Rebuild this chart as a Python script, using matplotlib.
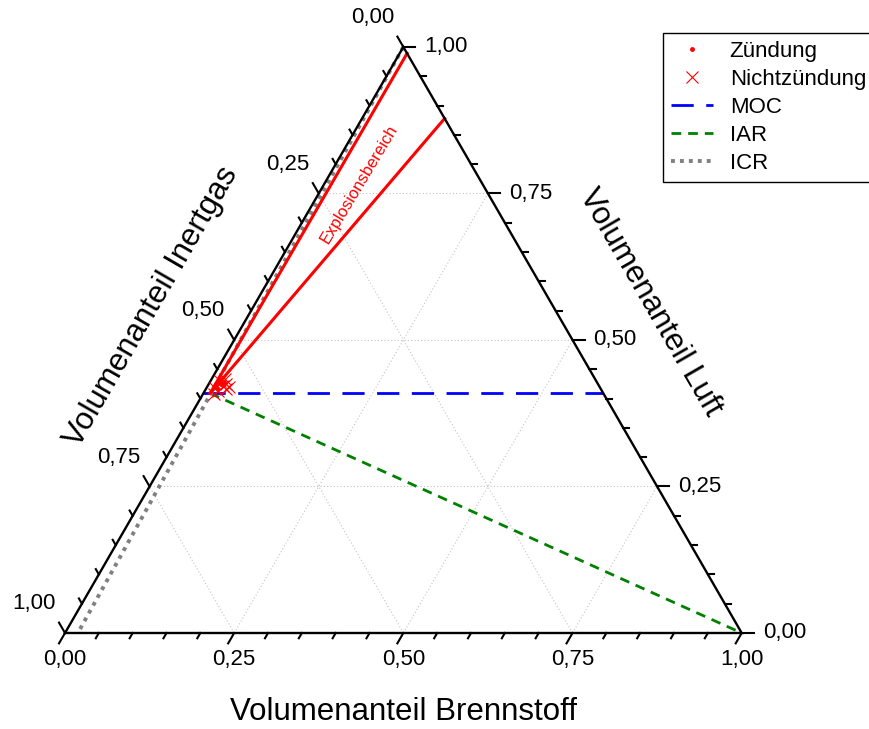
import numpy as np
import matplotlib.pyplot as plt
from matplotlib.transforms import Affine2D, offset_copy

plt.rcParams['font.family'] = ['Liberation Sans', 'DejaVu Sans']

# Anteile: (Brennstoff, Luft), Inertgas = 1 - Brennstoff - Luft
ueg_brennstoff = [0.010, 0.011]
ueg_luft = [0.409, 0.989]
oeg_brennstoff = [0.010, 0.122]
oeg_luft = [0.409, 0.878]

moc_brennstoff = [0.0, 0.591]
moc_luft = [0.409, 0.409]
iar_brennstoff = [0.010, 1.0]
iar_luft = [0.409, 0.0]
icr_brennstoff = [0.0, 0.019]
icr_luft = [1.0, 0.0]

zuend_brennstoff = [0.018, 0.021, 0.015]
zuend_luft = [0.425, 0.428, 0.418]
nicht_brennstoff = [0.014, 0.023, 0.020, 0.030, 0.016, 0.026, 0.019, 0.033, 0.012]
nicht_luft = [0.430, 0.422, 0.413, 0.416, 0.408, 0.425, 0.434, 0.420, 0.418]

major = [0.0, 0.25, 0.5, 0.75, 1.0]
tick_labels = ['0,00', '0,25', '0,50', '0,75', '1,00']
minor = np.arange(0, 1.0001, 0.05)

fig = plt.figure(figsize=(8.69, 7.29), dpi=100)
ax = fig.add_axes([0, 0, 1, 1])
ax.set_xlim(-0.09606, 1.18812)
ax.set_ylim(-0.14187, 0.93542)
ax.axis('off')

# ternary -> cartesian
tern = Affine2D(np.array([[1, 0.5, 0], [0, np.sqrt(3) / 2, 0], [0, 0, 1]])) + ax.transData

# grid
gkw = dict(color='#c4c4c4', lw=0.8, linestyle=(0, (1, 2)), transform=tern, zorder=1)
for v in major[1:-1]:
    ax.plot([0, 1 - v], [v, v], **gkw)
    ax.plot([v, v], [0, 1 - v], **gkw)
    ax.plot([1 - v, 0], [0, 1 - v], **gkw)

# frame
ax.plot([0, 1, 0, 0], [0, 0, 1, 0], color='black', lw=1.7, transform=tern,
        solid_joinstyle='miter', zorder=5)

# ticks
for v in minor:
    L = 0.0177 if abs(v * 4 - round(v * 4)) < 1e-6 else 0.009
    tkw = dict(color='black', lw=1.5, transform=tern, zorder=5)
    ax.plot([v, v], [0, -L], **tkw)
    ax.plot([1 - v, 1 - v + L], [v, v], **tkw)
    ax.plot([0, -L], [1 - v, 1 - v + L], **tkw)

fs = 16
for v, lab in zip(major, tick_labels):
    ax.text(v, 0, lab, fontsize=fs, ha='center', va='center',
            transform=offset_copy(tern, fig, x=0, y=-27, units='dots'))
    ax.text(1 - v, v, lab, fontsize=fs, ha='left', va='center',
            transform=offset_copy(tern, fig, x=21, y=0, units='dots'))
    ax.text(0, 1 - v, lab, fontsize=fs, ha='center', va='center',
            transform=offset_copy(tern, fig, x=-31, y=29, units='dots'))

# data
ax.plot(ueg_brennstoff, ueg_luft, color='red', lw=2.2, transform=tern, zorder=4)
ax.plot(oeg_brennstoff, oeg_luft, color='red', lw=2.2, transform=tern, zorder=4)
h_moc, = ax.plot(moc_brennstoff, moc_luft, color='blue', lw=2, linestyle=(0, (8, 4.5)),
                 transform=tern, zorder=3, label='MOC')
h_iar, = ax.plot(iar_brennstoff, iar_luft, color='green', lw=2, linestyle=(0, (3.5, 2.5)),
                 transform=tern, zorder=3, label='IAR')
h_icr, = ax.plot(icr_brennstoff, icr_luft, color='#808080', lw=2.8, linestyle=(0, (1, 1.3)),
                 transform=tern, zorder=3, label='ICR')
h_z, = ax.plot(zuend_brennstoff, zuend_luft, 'o', color='red', ms=2.5, transform=tern,
               zorder=6, label='Zündung', linestyle='none')
h_n, = ax.plot(nicht_brennstoff, nicht_luft, 'x', color='red', ms=8, mew=0.8,
               transform=tern, zorder=6, label='Nichtzündung', linestyle='none')

ax.text(0.4345, 0.6635, 'Explosionsbereich', color='red', fontsize=12, rotation=59,
        ha='center', va='center', transform=ax.transData, rotation_mode='anchor')

# axis titles
fig.text(403 / 869, 1 - 712 / 729, 'Volumenanteil Brennstoff', fontsize=22.5,
         ha='center', va='center')
fig.text(152 / 869, 1 - 307 / 729, 'Volumenanteil Inertgas', fontsize=22.5,
         ha='center', va='center', rotation=60, rotation_mode='anchor')
fig.text(650 / 869, 1 - 302 / 729, 'Volumenanteil Luft', fontsize=22.5,
         ha='center', va='center', rotation=-60, rotation_mode='anchor')

leg = fig.legend(handles=[h_z, h_n, h_moc, h_iar, h_icr], loc='upper left',
                 bbox_to_anchor=(663 / 869, 1 - 33 / 729), fontsize=fs,
                 frameon=True, fancybox=False, edgecolor='black', framealpha=1,
                 handlelength=1.9, handletextpad=0.75, borderpad=0.35,
                 labelspacing=0.32, borderaxespad=0)
leg.get_frame().set_linewidth(1.0)

fig.savefig('out.png', dpi=100)
